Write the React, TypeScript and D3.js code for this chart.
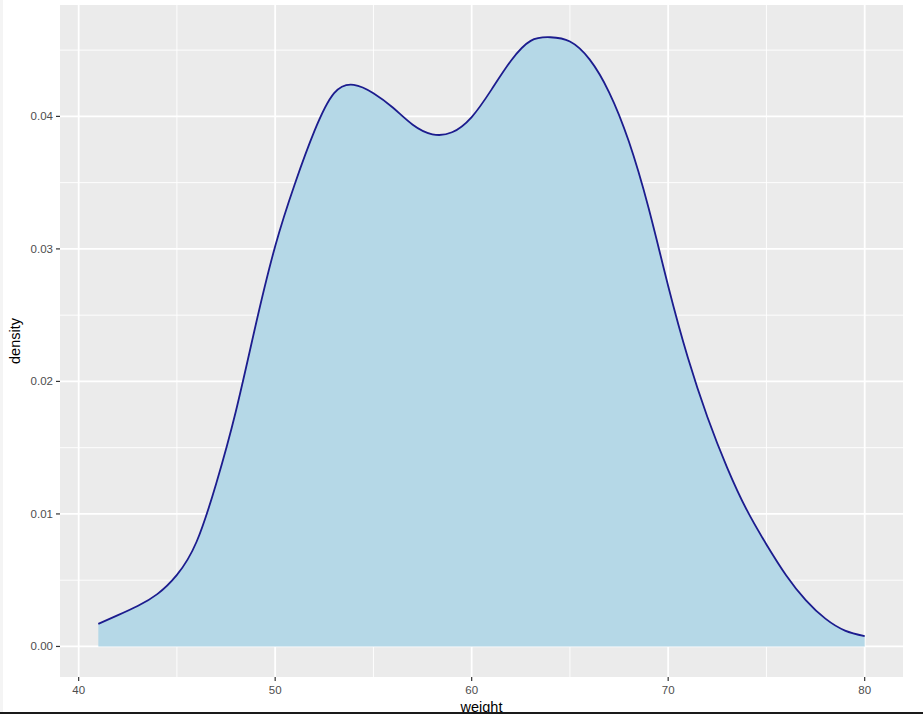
import React from "react";
import * as d3 from "d3";

const weights = [41, 42, 43, 44, 45, 46, 47, 48, 49, 50, 51, 52, 53, 54, 55, 56, 57, 58, 59, 60, 61, 62, 63, 64, 65, 66, 67, 68, 69, 70, 71, 72, 73, 74, 75, 76, 77, 78, 79, 80];
const densities = [0.0017, 0.00236, 0.00305, 0.00395, 0.0054, 0.0079, 0.0123, 0.01775, 0.0242, 0.0302, 0.0349, 0.0389, 0.04175, 0.04238, 0.04175, 0.04065, 0.03937, 0.03865, 0.0388, 0.03995, 0.042, 0.0442, 0.0457, 0.04597, 0.04565, 0.0443, 0.0418, 0.0381, 0.0331, 0.0272, 0.0218, 0.0173, 0.0135, 0.0103, 0.0077, 0.00538, 0.0035, 0.0021, 0.0012, 0.00078];

const xTicks = [40, 50, 60, 70, 80];
const xMinor = [45, 55, 65, 75];
const yTicks = [0, 0.01, 0.02, 0.03, 0.04];
const yMinor = [0.005, 0.015, 0.025, 0.035, 0.045];
const yTickLabels = ["0.00", "0.01", "0.02", "0.03", "0.04"];

const W = 923, H = 714;
const panel = { left: 60, right: 903, top: 5, bottom: 677 };

export default function App() {
  const data = weights.map((w, i) => ({ w, d: densities[i] }));
  const xMin = d3.min(weights)!, xMax = d3.max(weights)!;
  const yMax = 0.0461;
  const xPad = (xMax - xMin) * 0.05;
  const yPad = yMax * 0.05;
  const x = d3.scaleLinear().domain([xMin - xPad, xMax + xPad]).range([panel.left, panel.right]);
  const y = d3.scaleLinear().domain([-yPad, yMax + yPad]).range([panel.bottom, panel.top]);

  const curve = d3.curveNatural;
  const area = d3.area<{ w: number; d: number }>().x(p => x(p.w)).y0(y(0)).y1(p => y(p.d)).curve(curve);
  const line = d3.line<{ w: number; d: number }>().x(p => x(p.w)).y(p => y(p.d)).curve(curve);

  const font = "'Liberation Sans', Arial, Helvetica, sans-serif";

  return (
    <div style={{ position: "fixed", left: 0, top: 0 }}>
      <svg width={W} height={H} style={{ display: "block" }}>
        <rect x={0} y={0} width={W} height={H} fill="#ffffff" />
        <rect x={0} y={0} width={3} height={H} fill="#f4f4f4" />
        <rect x={panel.left} y={panel.top} width={panel.right - panel.left} height={panel.bottom - panel.top} fill="#ebebeb" />
        {yMinor.map(v => (
          <line key={"ym" + v} x1={panel.left} x2={panel.right} y1={y(v)} y2={y(v)} stroke="#ffffff" strokeWidth={0.9} />
        ))}
        {xMinor.map(v => (
          <line key={"xm" + v} x1={x(v)} x2={x(v)} y1={panel.top} y2={panel.bottom} stroke="#ffffff" strokeWidth={0.9} />
        ))}
        {yTicks.map(v => (
          <line key={"yM" + v} x1={panel.left} x2={panel.right} y1={y(v)} y2={y(v)} stroke="#ffffff" strokeWidth={1.8} />
        ))}
        {xTicks.map(v => (
          <line key={"xM" + v} x1={x(v)} x2={x(v)} y1={panel.top} y2={panel.bottom} stroke="#ffffff" strokeWidth={1.8} />
        ))}
        <path d={area(data)!} fill="#b5d8e7" />
        <path d={line(data)!} fill="none" stroke="#1c1c8e" strokeWidth={1.8} />
        {yTicks.map((v, i) => (
          <g key={"yt" + v}>
            <line x1={panel.left - 4} x2={panel.left} y1={y(v)} y2={y(v)} stroke="#333333" strokeWidth={1.2} />
            <text x={panel.left - 7} y={y(v)} dy="0.35em" textAnchor="end" fontFamily={font} fontSize={11.5} fill="#4d4d4d">
              {yTickLabels[i]}
            </text>
          </g>
        ))}
        {xTicks.map(v => (
          <g key={"xt" + v}>
            <line x1={x(v)} x2={x(v)} y1={panel.bottom} y2={panel.bottom + 4} stroke="#333333" strokeWidth={1.2} />
            <text x={x(v)} y={panel.bottom + 17} textAnchor="middle" fontFamily={font} fontSize={11.5} fill="#4d4d4d">
              {v}
            </text>
          </g>
        ))}
        <text x={(panel.left + panel.right) / 2} y={712} textAnchor="middle" fontFamily={font} fontSize={14.5} fill="#000000">
          weight
        </text>
        <text transform={`translate(20, ${(panel.top + panel.bottom) / 2}) rotate(-90)`} textAnchor="middle" fontFamily={font} fontSize={14.5} fill="#000000">
          density
        </text>
        <rect x={0} y={712} width={W} height={2} fill="#1a1a1a" />
      </svg>
    </div>
  );
}
